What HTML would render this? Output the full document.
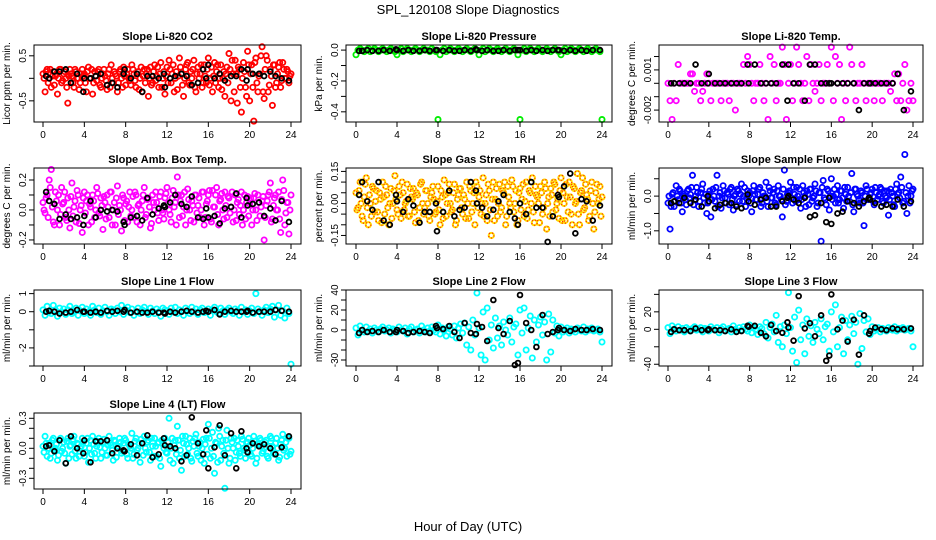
<!DOCTYPE html>
<html><head><meta charset="utf-8"><style>
body{margin:0;background:#fff;}
svg{display:block;font-family:"Liberation Sans",sans-serif;}
</style></head><body>
<svg id="chart" width="936" height="540" viewBox="0 0 936 540">
<rect width="936" height="540" fill="#fff"/>
<text x="468" y="14" text-anchor="middle" font-size="13">SPL_120108  Slope Diagnostics</text>
<text x="468" y="531" text-anchor="middle" font-size="13">Hour of Day (UTC)</text>
</svg>
<script>
// shared time axes (hours)
const hours = [0,0.2,0.4,0.6,0.8,1,1.2,1.4,1.6,1.8,2,2.2,2.4,2.6,2.8,3,3.2,3.4,3.6,3.8,4,4.2,4.4,4.6,4.8,5,5.2,5.4,5.6,5.8,6,6.2,6.4,6.6,6.8,7,7.2,7.4,7.6,7.8,8,8.2,8.4,8.6,8.8,9,9.2,9.4,9.6,9.8,10,10.2,10.4,10.6,10.8,11,11.2,11.4,11.6,11.8,12,12.2,12.4,12.6,12.8,13,13.2,13.4,13.6,13.8,14,14.2,14.4,14.6,14.8,15,15.2,15.4,15.6,15.8,16,16.2,16.4,16.6,16.8,17,17.2,17.4,17.6,17.8,18,18.2,18.4,18.6,18.8,19,19.2,19.4,19.6,19.8,20,20.2,20.4,20.6,20.8,21,21.2,21.4,21.6,21.8,22,22.2,22.4,22.6,22.8,23,23.2,23.4,23.6,23.8,24];
const hours2 = [0.1,0.3,0.5,0.7,0.9,1.1,1.3,1.5,1.7,1.9,2.1,2.3,2.5,2.7,2.9,3.1,3.3,3.5,3.7,3.9,4.1,4.3,4.5,4.7,4.9,5.1,5.3,5.5,5.7,5.9,6.1,6.3,6.5,6.7,6.9,7.1,7.3,7.5,7.7,7.9,8.1,8.3,8.5,8.7,8.9,9.1,9.3,9.5,9.7,9.9,10.1,10.3,10.5,10.7,10.9,11.1,11.3,11.5,11.7,11.9,12.1,12.3,12.5,12.7,12.9,13.1,13.3,13.5,13.7,13.9,14.1,14.3,14.5,14.7,14.9,15.1,15.3,15.5,15.7,15.9,16.1,16.3,16.5,16.7,16.9,17.1,17.3,17.5,17.7,17.9,18.1,18.3,18.5,18.7,18.9,19.1,19.3,19.5,19.7,19.9,20.1,20.3,20.5,20.7,20.9,21.1,21.3,21.5,21.7,21.9,22.1,22.3,22.5,22.7,22.9,23.1,23.3,23.5,23.7,23.9];
const hoursBlack = [0.3,0.6,1.1,1.6,2.2,2.7,3.3,3.9,4.0,4.6,5.1,5.6,6.2,6.7,7.2,7.8,7.9,8.5,9.1,9.6,10.1,10.6,11.2,11.7,11.8,12.3,12.8,13.4,13.9,14.4,15.0,15.5,15.8,16.0,16.6,17.1,17.6,18.2,18.7,19.2,19.7,19.8,20.3,20.9,21.4,22.0,22.5,23.1,23.8];
const xTicks = [0,4,8,12,16,20,24];
const xTickLabels = ["0","4","8","12","16","20","24"];

const co2Color = [0.1,-0.3,0.2,0.0,-0.2,0.15,0.05,-0.35,0.2,-0.1,0.1,0.0,-0.55,0.2,0.05,-0.2,0.15,0.0,-0.1,0.2,0.1,-0.3,0.25,0.0,-0.35,0.15,-0.05,0.2,-0.2,0.1,0.05,-0.25,0.2,0.3,-0.1,0.1,-0.3,0.15,0.0,0.25,-0.15,0.2,-0.05,0.3,0.1,-0.2,0.15,0.0,-0.3,0.2,0.1,-0.4,0.25,-0.1,0.3,0.05,-0.2,0.35,0.0,-0.35,0.25,0.4,-0.1,0.3,0.0,-0.25,0.45,0.1,-0.4,0.2,0.35,-0.15,0.0,0.4,-0.3,0.25,0.1,-0.2,0.3,-0.1,0.45,0.0,-0.3,0.35,0.15,-0.2,0.3,0.0,-0.4,0.25,0.55,-0.5,0.1,0.4,-0.55,0.2,-0.75,0.35,-0.2,0.6,-0.5,0.3,-0.95,0.45,-0.3,0.1,0.7,-0.45,0.5,-0.3,0.2,-0.6,0.3,-0.1,0.25,-0.2,0.35,0.0,0.2,-0.1,0.1];
const co2Color2 = [0.0,0.15,-0.1,0.2,0.05,-0.15,0.1,0.0,0.2,-0.05,0.15,-0.2,0.05,0.1,-0.1,0.2,0.0,-0.25,0.1,0.05,-0.1,0.15,0.0,0.2,-0.1,0.05,0.15,-0.15,0.0,0.2,-0.05,0.1,-0.2,0.0,0.15,0.05,-0.1,0.2,-0.2,0.05,0.1,0.0,-0.15,0.2,-0.05,0.1,-0.25,0.25,0.05,-0.1,0.2,0.0,-0.15,0.15,-0.05,0.25,0.1,-0.2,0.15,0.05,-0.1,0.2,0.1,-0.3,0.15,0.05,0.25,-0.15,0.0,0.3,-0.1,0.15,0.2,-0.2,0.1,0.0,0.3,-0.1,0.05,0.2,-0.15,0.25,0.05,-0.1,0.3,0.0,-0.25,0.15,0.1,-0.1,0.2,0.4,-0.3,0.1,0.25,-0.2,0.0,0.15,-0.4,0.3,0.1,-0.2,0.35,-0.1,0.05,0.5,-0.3,0.2,0.4,-0.15,0.05,0.3,-0.2,0.1,0.35,-0.05,0.2,0.0,0.15,0.05];
const co2Black = [0.05,0.0,0.15,0.15,0.2,-0.1,0.1,-0.3,0.0,0.0,0.05,0.1,-0.15,-0.1,-0.2,0.1,0.2,0.0,0.1,-0.3,0.05,0.05,0.0,0.1,-0.2,0.0,0.05,0.1,0.05,-0.15,-0.1,0.2,0.0,0.3,0.0,0.1,-0.05,0.05,0.05,0.2,-0.05,0.2,0.1,0.1,0.05,0.15,0.05,0.0,-0.05];

const presColor = [-0.03,0,0.01,0,-0.01,0,0.01,-0.01,0,0.01,0,-0.01,0,0.01,0,-0.01,0,0.01,0,-0.01,-0.03,0,0.01,-0.01,0,0.01,0,-0.01,0,0.01,0,-0.01,0,0.01,0,0,-0.01,0.01,0,-0.01,-0.45,-0.03,0,0.01,-0.01,0,0.01,0,-0.01,0,0.01,0,-0.01,0,0.01,0,-0.01,0,0.01,0,-0.03,0,0.01,-0.01,0,0.01,0,-0.01,0,0.01,0,-0.01,0,0.01,0,-0.01,0,0.01,0,-0.03,-0.45,0,0.01,-0.01,0,0.01,0,-0.01,0,0.01,0,-0.01,0,0.01,0,-0.01,0,0.01,0,-0.01,-0.03,0,0.01,-0.01,0,0.01,0,-0.01,0,0.01,0,-0.01,0,0.01,0,-0.01,0,0.01,0,-0.01,-0.45];
const presBlack = [-0.005,-0.005,0,-0.005,-0.005,0,-0.005,0.005,0,-0.005,0,-0.005,-0.005,0,-0.005,0,0,-0.005,0,-0.005,-0.005,0,-0.005,0.005,0,-0.005,0,-0.005,-0.005,0,-0.005,0,0,0,-0.005,0,-0.005,0,-0.005,0,0,0,-0.005,0,-0.005,0,-0.005,0,0];

const tempColorMilli = [0,-1.3,-2.7,0,-1.3,1.4,0,0,0,0,0,0.7,0.7,-0.6,0,0,-1.3,-0.6,0,0.7,0,-1.3,0,0,0,0,-1.3,0,0,0,-1.3,0,0,-2,0,0,0,1.4,0,2,1.4,0,-1.3,0,0,1.4,0,-1.3,0,-2.7,2,0,1.4,-1.3,0,0,2.7,1.4,-2.7,0,1.4,-1.3,0,2.7,1.4,0,-1.3,0,2,-1.3,1.4,0,-0.6,0,1.4,-1.3,0,0,1.4,0,2.7,-1.3,2,0,1.4,-2.7,0,-1.3,0,2.7,1.4,0,-1.3,0,0,1.4,0,-1.3,0,0,0,-1.3,0,0,0,-1.3,0,0,0,-0.6,0,0.7,-1.3,0.7,-1.3,0,1.4,-2,-1.3,0,-1.3];
const tempBlackMilli = [0,0,0,0,0,1.4,0,0,0.7,0,0,0,0,0,0,1.4,0,1.4,0,0,0,0,1.4,-1.3,1.4,0,0,-1.3,1.4,1.4,0,0,0,0,0,0,0,0,-2,0,0,0,0,0,0,0,0.7,-2,-0.6];

const ambColor = [0.05,-0.02,0.1,0.2,0.27,-0.08,0.12,0.0,-0.1,0.15,0.05,-0.05,0.08,-0.12,0.18,0.02,-0.08,0.1,0.0,-0.15,0.12,0.06,-0.1,0.02,0.1,-0.05,0.15,-0.02,0.08,-0.13,0.05,0.1,-0.05,0.12,0.0,-0.1,0.16,0.03,-0.14,0.08,0.04,-0.08,0.12,0.0,-0.05,0.1,0.03,-0.1,0.06,0.15,-0.03,0.08,-0.12,0.1,0.0,0.05,-0.07,0.12,-0.02,0.08,0.15,0.0,-0.08,0.13,0.05,0.22,-0.05,0.1,0.02,-0.1,0.14,0.0,0.06,-0.08,0.1,0.03,-0.05,0.12,-0.1,0.04,0.1,-0.06,0.13,0.02,0.15,-0.1,0.07,0.0,0.12,-0.05,0.08,0.02,-0.08,0.1,0.05,-0.03,0.12,0.0,-0.06,0.09,0.04,-0.1,0.08,0.0,0.1,-0.04,0.06,-0.2,0.03,0.1,0.18,-0.06,0.08,0.0,0.12,-0.15,0.2,-0.1,0.05,-0.16,0.1];
const ambColor2 = [0.0,0.08,-0.05,0.15,0.02,-0.1,0.06,0.1,-0.03,0.04,0.12,-0.07,0.0,0.09,-0.04,0.06,0.13,-0.09,0.03,0.08,-0.02,0.1,0.04,-0.08,0.06,0.0,0.11,-0.04,0.03,0.09,-0.06,0.02,0.12,-0.1,0.05,0.08,-0.03,0.0,0.1,-0.07,0.06,0.02,-0.04,0.09,0.12,-0.08,0.04,0.0,0.1,-0.05,0.07,0.02,-0.09,0.05,0.12,-0.02,0.09,0.0,-0.06,0.11,0.04,-0.03,0.08,0.02,-0.1,0.1,0.06,-0.04,0.12,0.0,0.07,-0.07,0.03,0.1,-0.02,0.08,0.0,0.12,-0.05,0.06,0.13,-0.08,0.02,0.1,-0.03,0.06,0.11,-0.06,0.03,0.09,-0.02,0.12,0.0,-0.07,0.07,0.03,-0.1,0.1,0.05,-0.04,0.08,0.0,0.11,-0.07,0.05,0.02,0.09,-0.05,0.06,0.12,-0.08,0.03,0.1,0.0,-0.06,0.07,0.13,-0.02,0.05,0.0];
const ambBlack = [0.12,0.06,0.04,-0.06,-0.03,-0.06,-0.05,-0.1,-0.04,0.06,-0.05,0.0,-0.01,0.0,-0.01,-0.08,-0.1,-0.05,-0.04,-0.07,0.08,-0.03,0.01,0.03,0.02,0.05,0.1,0.04,0.02,0.09,-0.05,-0.06,0.01,-0.05,-0.04,-0.09,0.01,0.02,0.11,-0.05,0.08,0.03,0.04,0.05,-0.04,0.01,-0.07,0.06,-0.08];

const rhColor = [0.05,-0.02,0.1,-0.06,0.03,0.12,-0.1,0.0,0.08,-0.04,0.06,-0.08,0.02,0.1,-0.05,0.04,-0.1,0.07,0.0,0.13,-0.03,0.08,-0.07,0.05,0.0,0.09,-0.06,0.03,0.07,-0.09,0.04,-0.02,0.1,-0.05,0.06,0.0,-0.08,0.05,0.02,-0.04,0.08,-0.1,0.03,0.11,-0.06,0.05,0.0,-0.03,0.09,-0.08,0.04,0.07,-0.05,0.02,0.1,-0.07,0.06,0.0,-0.1,0.08,0.03,-0.05,0.12,0.0,-0.08,0.06,-0.15,0.1,0.02,-0.06,0.09,-0.02,0.05,-0.1,0.08,0.0,0.11,-0.04,0.06,-0.08,0.07,0.02,-0.06,0.1,-0.03,0.05,0.12,-0.09,0.04,0.0,0.08,-0.05,0.1,-0.12,0.03,0.07,-0.04,0.09,0.0,-0.07,0.12,0.05,-0.08,0.03,0.1,-0.05,0.08,0.0,0.14,-0.1,0.06,-0.03,0.09,0.02,-0.06,0.1,-0.12,0.05,0.0,0.08,0.03];
const rhColor2 = [-0.03,0.06,0.0,-0.08,0.09,-0.02,0.04,-0.06,0.07,0.01,-0.04,0.05,-0.09,0.03,0.08,-0.02,0.0,-0.07,0.06,0.02,-0.05,0.04,0.1,-0.03,0.01,-0.06,0.07,0.02,-0.04,0.05,-0.08,0.09,0.0,-0.02,0.06,-0.06,0.03,0.08,-0.05,0.01,-0.03,0.06,-0.07,0.04,0.0,0.09,-0.04,0.05,-0.1,0.02,0.07,-0.02,0.04,-0.07,0.0,0.08,-0.04,0.05,0.1,-0.02,0.06,0.0,-0.06,0.04,0.09,-0.03,0.02,-0.08,0.07,0.0,-0.04,0.06,0.1,-0.06,0.03,-0.02,0.08,0.0,-0.1,0.05,-0.03,0.09,0.01,-0.07,0.06,0.0,-0.04,0.08,0.03,-0.09,0.05,-0.02,0.07,0.0,-0.06,0.04,0.1,-0.03,0.02,0.06,-0.08,0.0,0.09,-0.04,0.03,-0.1,0.07,0.01,-0.05,0.05,0.12,-0.02,0.04,-0.08,0.06,0.0,-0.04,0.09,0.02,-0.06];
const rhBlack = [0.04,0.1,0.01,-0.03,0.1,-0.08,-0.1,0.04,0.01,-0.04,0.02,-0.01,-0.09,-0.04,-0.04,0.0,-0.13,-0.04,0.06,-0.06,-0.03,-0.02,0.1,0.06,0.0,-0.02,-0.06,-0.03,0.01,0.04,-0.04,-0.07,-0.1,0.0,-0.05,0.1,-0.02,-0.02,-0.18,-0.06,0.04,0.03,0.08,0.14,-0.14,0.02,0.01,-0.08,-0.01];

const flowColor = [-0.2,-0.95,0.05,-0.3,0.3,-0.1,0.15,-0.45,0.0,-0.25,0.2,0.05,0.6,-0.1,0.25,-0.3,0.1,0.35,-0.2,-0.5,0.05,-0.6,0.2,-0.15,0.6,0.0,-0.35,0.3,-0.05,0.1,-0.25,0.25,-0.4,0.05,0.2,-0.15,0.35,0.0,-0.3,0.15,0.1,-0.45,0.3,-0.1,0.05,0.25,-0.2,0.0,0.4,-0.3,0.15,-0.05,0.2,-0.25,0.3,0.0,-0.6,0.75,-0.15,0.1,0.4,-0.2,0.05,0.25,-0.1,-0.35,0.3,0.0,0.15,-0.25,0.2,-0.05,0.35,-0.3,0.1,-1.3,0.45,-0.1,0.2,-0.4,0.5,0.0,-0.2,0.3,-0.1,0.15,-0.35,0.05,0.25,-0.15,0.65,-0.45,0.2,0.0,-0.2,0.1,-0.85,0.3,-0.1,0.05,0.2,-0.25,0.1,0.0,0.25,-0.15,0.15,-0.05,-0.55,0.2,0.0,-0.3,0.35,0.1,0.55,-0.2,1.2,-0.5,0.3,0.0,0.2];
const flowColor2 = [0.0,-0.3,0.1,-0.15,0.0,0.2,-0.2,0.05,-0.1,0.15,-0.05,0.25,-0.25,0.0,0.1,-0.15,0.2,-0.05,0.05,-0.2,0.15,-0.1,0.0,0.25,-0.3,0.1,-0.05,0.15,-0.2,0.05,0.2,-0.1,0.0,-0.25,0.15,0.05,-0.15,0.25,-0.05,0.0,-0.2,0.15,0.05,-0.1,0.2,-0.3,0.1,0.0,-0.15,0.25,-0.05,0.1,-0.2,0.15,0.0,-0.1,0.2,-0.25,0.05,0.15,-0.05,0.25,-0.15,0.0,0.2,-0.1,0.1,-0.3,0.05,0.2,-0.15,0.0,0.15,-0.2,0.1,0.25,-0.05,-0.25,0.15,0.0,-0.1,0.2,0.05,-0.2,0.15,-0.05,0.25,-0.15,0.0,0.1,-0.25,0.2,0.05,-0.1,0.15,-0.2,0.0,0.2,-0.05,0.1,-0.15,0.25,-0.1,0.05,0.2,-0.2,0.0,0.15,-0.1,0.1,-0.25,0.2,0.05,-0.05,0.25,-0.15,0.1,0.0,-0.2,0.15];
const flowBlack = [-0.2,-0.15,-0.2,-0.05,-0.2,-0.1,-0.3,0.0,-0.15,-0.35,-0.25,-0.2,-0.2,-0.3,-0.35,0.05,-0.15,-0.25,-0.1,-0.05,-0.3,-0.3,-0.15,-0.05,0.0,-0.1,-0.2,-0.05,-0.6,-0.55,-0.2,-0.75,-0.05,-0.8,-0.5,-0.45,-0.15,-0.2,-0.3,-0.15,-0.05,-0.1,-0.2,-0.3,-0.25,-0.3,-0.1,-0.3,-0.15];

const line1Color = [0.1,-0.2,0.3,0.0,-0.1,0.35,0.1,-0.25,0.2,0.0,0.15,-0.15,0.1,0.3,-0.1,0.0,0.2,-0.2,0.05,0.25,-0.1,0.15,0.0,-0.2,0.3,0.1,-0.05,0.2,-0.15,0.05,0.25,0.0,-0.2,0.15,0.1,-0.1,0.2,0.0,0.35,-0.15,0.1,0.25,-0.05,0.15,-0.2,0.0,0.2,-0.1,0.1,0.25,0.0,-0.15,0.2,0.05,-0.1,0.15,0.0,-0.25,0.2,0.1,0.05,-0.15,0.2,0.0,0.25,-0.1,0.1,0.0,-0.2,0.2,0.05,-0.1,0.25,0.0,0.15,-0.15,0.1,0.2,-0.05,0.0,0.15,-0.2,0.1,0.25,0.0,-0.1,0.2,0.05,-0.15,0.1,0.2,0.0,-0.1,0.15,0.05,-0.2,0.25,0.0,0.1,-0.15,0.05,0.2,-0.1,1.0,0.15,0.0,-0.2,0.1,0.25,-0.05,0.15,0.3,-0.3,0.1,0.35,-0.2,0.05,-0.35,0.2,-0.1,-2.9];
const line1Black = [0.0,0.05,0.0,-0.1,-0.05,0.0,0.1,0.0,0.0,-0.05,0.0,-0.05,0.05,0.0,0.05,0.0,0.1,-0.05,0.0,-0.05,-0.05,0.0,-0.05,-0.05,-0.1,0.0,-0.05,0.0,0.05,0.0,-0.05,0.0,0.05,0.0,0.1,-0.15,0.0,0.05,0.0,0.0,0.0,0.05,-0.05,0.0,0.0,0.0,0.1,0.05,0.0];

const line2Color = [2,-5,4,0,-2,3,-1,1,-3,2,0,-2,1,3,-1,0,2,-3,1,0,-2,3,0,-1,2,-4,1,3,-2,0,1,-3,4,0,-2,2,-1,3,0,-2,5,-4,2,0,-6,3,1,-5,4,-8,2,6,-3,7,-15,3,-20,10,-5,37,2,-25,18,-30,22,-10,5,-18,12,-8,4,-15,8,0,-5,12,-12,3,6,-25,20,-3,22,-20,2,14,-28,10,-12,5,13,-5,8,-30,16,-22,10,-3,4,-6,3,-2,0,2,-3,1,0,-2,2,0,-1,3,-2,1,0,2,-1,0,1,-2,-12];
const line2Black = [-3,0,-2,-1,-2,0,-2,-2,0,-1,-3,-2,-1,-2,-3,4,2,1,4,-2,-8,7,-3,-4,6,3,-11,30,2,-4,9,-35,-33,35,7,0,-17,15,-4,-2,0,2,0,-1,1,0,0,1,0];

const line3Color = [2,-5,4,0,-2,3,-1,1,-3,2,0,-2,1,3,-1,0,2,-3,1,0,-2,3,0,-1,2,-4,1,3,-2,0,1,-3,4,0,-2,2,-1,3,0,-2,5,-4,2,0,-6,3,1,-5,8,-10,2,6,-3,16,-15,3,-20,5,-5,42,2,-25,14,-38,22,-12,5,-28,12,-8,4,-15,8,0,-5,12,-12,3,6,-25,20,-3,28,-20,2,14,-28,10,-12,5,15,-5,8,-40,18,-22,10,-3,12,-6,3,-2,0,2,-3,1,0,-2,2,0,-1,3,-2,1,0,2,-1,0,1,-2,-20];
const line3Black = [-3,0,-1,-1,-2,1,-1,-1,0,-1,-1,-2,0,-3,-2,4,3,4,-4,-8,5,-2,-4,8,2,-13,38,1,7,-8,16,-36,-30,40,0,10,-14,11,-29,16,-5,-2,2,0,-1,1,0,0,1];

const line4Color = [0.02,0.12,-0.08,0.05,-0.05,0.1,0.0,-0.12,0.08,-0.03,0.06,-0.15,0.1,0.02,-0.06,0.12,-0.1,0.04,0.0,0.1,-0.08,0.05,-0.14,0.08,0.12,-0.05,0.02,0.1,-0.1,0.06,0.0,-0.07,0.12,0.03,-0.12,0.07,0.0,0.1,-0.05,0.05,0.08,-0.1,0.02,0.15,-0.06,0.1,0.0,-0.14,0.05,0.12,-0.04,0.08,-0.12,0.02,0.1,-0.08,0.06,-0.18,0.04,0.1,-0.05,0.3,0.0,-0.15,0.08,0.22,-0.1,-0.22,0.05,0.12,-0.06,0.1,-0.13,0.02,0.14,-0.08,0.06,0.0,-0.15,0.1,0.24,-0.1,0.16,-0.25,0.05,0.2,-0.12,0.08,-0.4,0.18,-0.15,0.1,0.0,-0.12,0.08,-0.05,0.12,0.0,-0.1,0.06,0.03,-0.08,0.12,-0.15,0.05,0.1,-0.05,0.0,0.08,-0.1,0.12,0.02,-0.06,0.1,-0.12,0.04,0.14,0.0,-0.08,0.1,-0.03];
const line4Color2 = [-0.04,0.05,0.0,-0.1,0.08,-0.02,0.04,-0.07,0.1,0.0,-0.05,0.07,-0.1,0.03,0.09,-0.03,0.05,-0.08,0.02,0.06,-0.04,0.1,0.0,-0.06,0.04,-0.1,0.07,0.01,-0.04,0.09,-0.07,0.03,0.05,-0.02,0.08,-0.09,0.02,0.06,-0.03,0.1,-0.06,0.04,0.0,-0.1,0.07,-0.02,0.05,0.09,-0.07,0.0,0.06,-0.04,0.1,-0.08,0.02,0.05,-0.1,0.08,0.0,-0.04,0.06,-0.12,0.1,0.03,-0.06,0.08,-0.02,0.12,-0.08,0.04,0.0,-0.1,0.07,0.1,-0.05,0.02,-0.12,0.09,0.04,-0.06,0.1,0.0,-0.08,0.06,-0.14,0.12,0.02,-0.05,0.08,0.0,-0.1,0.06,0.1,-0.04,0.02,-0.08,0.09,-0.02,0.05,0.1,-0.06,0.0,0.07,-0.1,0.04,0.08,-0.03,0.06,-0.08,0.02,0.1,-0.05,0.05,0.0,-0.09,0.08,-0.02,0.06,0.1,-0.06];
const line4Black = [0.02,0.03,-0.03,0.08,-0.15,0.12,0.0,-0.05,0.08,-0.14,0.07,0.07,0.08,-0.05,0.0,-0.02,-0.03,0.04,-0.07,0.05,0.13,-0.09,-0.06,0.1,0.03,0.02,0.0,-0.13,-0.07,0.31,0.05,-0.06,0.18,-0.2,0.01,0.23,-0.07,0.15,-0.2,0.17,0.0,-0.04,0.05,0.02,0.04,0.0,-0.06,0.01,0.12];

// layout
const cols = [{L:34,R:301,x0:43,x24:291},{L:346,R:612,x0:356,x24:602},{L:659,R:923,x0:668,x24:913}];
const rows = [{T:45,B:122},{T:168,B:244},{T:290,B:366},{T:413,B:489}];

const panels = [
 {name:"co2",title:"Slope Li-820 CO2",ylab:"Licor ppm per min.",c:0,r:0,ymin:-0.97,ymax:0.74,yt:[-0.5,0,0.5],ytl:["-0.5","","0.5"],col:"#ff0000",cd:co2Color,cd2:co2Color2,bd:co2Black},
 {name:"pressure",title:"Slope Li-820 Pressure",ylab:"kPa per min.",c:1,r:0,ymin:-0.466,ymax:0.033,yt:[-0.4,-0.3,-0.2,-0.1,0],ytl:["-0.4","","-0.2","","0.0"],col:"#00ee00",cd:presColor,bd:presBlack},
 {name:"temp",title:"Slope Li-820 Temp.",ylab:"degrees C per min.",c:2,r:0,ymin:-2.89,ymax:2.86,yt:[-2,-1,0,1,2],ytl:["-0.002","","","0.001",""],col:"#ff00ff",cd:tempColorMilli,bd:tempBlackMilli},
 {name:"amb-temp",title:"Slope Amb. Box Temp.",ylab:"degrees C per min.",c:0,r:1,ymin:-0.227,ymax:0.28,yt:[-0.2,-0.1,0,0.1,0.2],ytl:["-0.2","","0.0","","0.2"],col:"#ff00ff",cd:ambColor,cd2:ambColor2,bd:ambBlack},
 {name:"rh",title:"Slope Gas Stream RH",ylab:"percent per min.",c:1,r:1,ymin:-0.19,ymax:0.166,yt:[-0.15,-0.1,-0.05,0,0.05,0.1,0.15],ytl:["-0.15","","","0.00","","","0.15"],col:"rh",cd:rhColor,cd2:rhColor2,bd:rhBlack},
 {name:"sample-flow",title:"Slope Sample Flow",ylab:"ml/min per min.",c:2,r:1,ymin:-1.38,ymax:0.81,yt:[-1,-0.5,0,0.5],ytl:["-1.0","","0.0",""],col:"#0000ff",cd:flowColor,cd2:flowColor2,bd:flowBlack},
 {name:"line1",title:"Slope Line 1 Flow",ylab:"ml/min per min.",c:0,r:2,ymin:-3.0,ymax:1.2,yt:[-3,-2,-1,0,1],ytl:["","-2","","0","1"],col:"#00ffff",cd:line1Color,bd:line1Black},
 {name:"line2",title:"Slope Line 2 Flow",ylab:"ml/min per min.",c:1,r:2,ymin:-36,ymax:40,yt:[-30,-20,-10,0,10,20,30,40],ytl:["-30","","","0","","20","","40"],col:"#00ffff",cd:line2Color,bd:line2Black},
 {name:"line3",title:"Slope Line 3 Flow",ylab:"ml/min per min.",c:2,r:2,ymin:-42,ymax:45,yt:[-40,-20,0,20,40],ytl:["-40","","0","20",""],col:"#00ffff",cd:line3Color,bd:line3Black},
 {name:"line4",title:"Slope Line 4 (LT) Flow",ylab:"ml/min per min.",c:0,r:3,ymin:-0.407,ymax:0.353,yt:[-0.3,-0.2,-0.1,0,0.1,0.2,0.3],ytl:["-0.3","","","0.0","","","0.3"],col:"#00ffff",cd:line4Color,cd2:line4Color2,bd:line4Black}
];

const NS="http://www.w3.org/2000/svg";
const svg=document.getElementById('chart');
function mk(tag,attrs,parent){const e=document.createElementNS(NS,tag);for(const k in attrs)e.setAttribute(k,attrs[k]);(parent||svg).appendChild(e);return e;}

panels.forEach(p=>{
  const C=cols[p.c], R=rows[p.r];
  const xs=v=>C.x0+(v/24)*(C.x24-C.x0);
  const ys=v=>R.B-(v-p.ymin)/(p.ymax-p.ymin)*(R.B-R.T);
  const g=mk('g',{});
  
  
  const t=mk('text',{x:(C.L+C.R)/2,y:R.T-5,'text-anchor':'middle','font-size':'11','font-weight':'bold'},g);
  t.textContent=p.title;
  
  
  const yl=mk('text',{x:0,y:0,'text-anchor':'middle','font-size':'10',transform:`translate(${C.L-24},${(R.T+R.B)/2}) rotate(-90)`},g);
  yl.textContent=p.ylab;
  
  
  const cg=mk('g',{fill:'none'},g);
  
  
  function drawSeries(hs,vals){
    const n=Math.min(hs.length,vals.length);
    for(let i=0;i<n;i++){
      const cx=xs(hs[i]), cy=ys(vals[i]);
      if(p.col==='rh'){
        const c1=mk('circle',{cx:cx,cy:cy,r:2.6,stroke:'#ffd800','stroke-width':2},cg);
        
        
        const c2=mk('circle',{cx:cx,cy:cy,r:2.6,stroke:'#ff2000','stroke-width':1.2,'stroke-dasharray':'1 2.2'},cg);
        
        
      } else {
        const c=mk('circle',{cx:cx,cy:cy,r:2.6,stroke:p.col,'stroke-width':1.8},cg);
        
        
      }
    }
  }
  drawSeries(hours,p.cd);
  if(p.cd2) drawSeries(hours2,p.cd2);
  const bg=mk('g',{fill:'none',stroke:'#000','stroke-width':1.8},g);
  
  
  const m=Math.min(hoursBlack.length,p.bd.length);
  for(let i=0;i<m;i++){
    const c=mk('circle',{cx:xs(hoursBlack[i]),cy:ys(p.bd[i]),r:2.4},bg);
    
    
  }
  const bx=mk('rect',{x:C.L,y:R.T,width:C.R-C.L,height:R.B-R.T,fill:'none',stroke:'#000','stroke-width':1},g);
  
  
  const xa=mk('g',{},g);
  
  
  mk('line',{x1:xs(xTicks[0]),x2:xs(xTicks[xTicks.length-1]),y1:R.B,y2:R.B,stroke:'#000'},xa);
  xTicks.forEach((v,i)=>{
    mk('line',{x1:xs(v),x2:xs(v),y1:R.B,y2:R.B+5,stroke:'#000'},xa);
    const tl=mk('text',{x:xs(v),y:R.B+16,'text-anchor':'middle','font-size':'10'},xa);
    tl.textContent=xTickLabels[i];
    
    
  });
  const ya=mk('g',{},g);
  
  
  mk('line',{x1:C.L,x2:C.L,y1:ys(p.yt[0]),y2:ys(p.yt[p.yt.length-1]),stroke:'#000'},ya);
  p.yt.forEach((v,i)=>{
    const y=ys(v);
    mk('line',{x1:C.L-5,x2:C.L,y1:y,y2:y,stroke:'#000'},ya);
    if(p.ytl[i]){
      const tl=mk('text',{x:0,y:0,'text-anchor':'middle','font-size':'10',transform:`translate(${C.L-8},${y}) rotate(-90)`},ya);
      tl.textContent=p.ytl[i];
      
      
    }
  });
});
</script>
</body></html>
